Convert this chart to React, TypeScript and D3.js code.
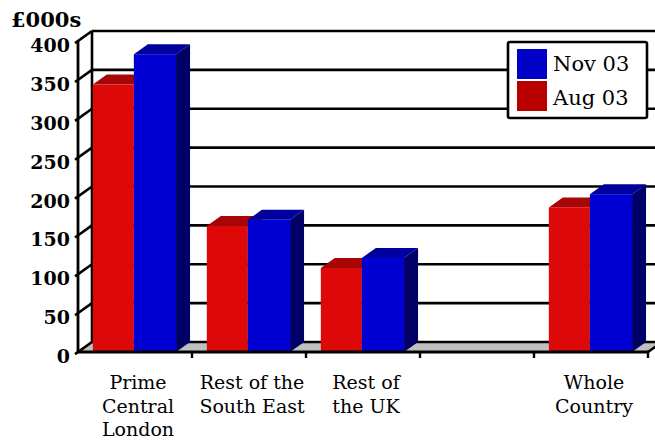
import React from "react";
import * as d3 from "d3";

// Average house prices by region, £000s
const categories = ["Prime Central London", "Rest of the South East", "Rest of the UK", "", "Whole Country"];
const categoryLines = [["Prime", "Central", "London"], ["Rest of the", "South East"], ["Rest of", "the UK"], [], ["Whole", "Country"]];
const aug03: (number | null)[] = [344, 162, 108, null, 186];
const nov03: (number | null)[] = [383, 170, 121, null, 203];
const yTicks = [0, 50, 100, 150, 200, 250, 300, 350, 400];
const seriesNames = ["Nov 03", "Aug 03"];

const W = 655;
const H = 446;
const DX = 14;
const DY = -10;
const FONT = "'DejaVu Serif', serif";

const RED = { front: "#dd0808", top: "#a80606", side: "#700000", key: "#b80000" };
const BLUE = { front: "#0000d2", top: "#00009e", side: "#000066", key: "#0000c8" };

export default function App() {
  const x = d3.scaleBand<string>().domain(categories).range([78, 648]).padding(0);
  const y = d3.scaleLinear().domain([0, 400]).range([352, 41]);
  const bw = x.bandwidth();
  const y0 = y(0);
  const xL = x.range()[0];
  const xR = x.range()[1];

  const bar = (cx: number, w: number, v: number, c: typeof RED, key: string) => {
    const yv = y(v);
    const top = [[cx, yv], [cx + w, yv], [cx + w + DX, yv + DY], [cx + DX, yv + DY]];
    const side = [[cx + w, yv], [cx + w + DX, yv + DY], [cx + w + DX, y0 + DY], [cx + w, y0]];
    return (
      <g key={key}>
        <polygon points={side.map((p) => p.join(",")).join(" ")} fill={c.side} />
        <polygon points={top.map((p) => p.join(",")).join(" ")} fill={c.top} />
        <rect x={cx} y={yv} width={w} height={y0 - yv} fill={c.front} />
      </g>
    );
  };

  return (
    <svg width={W} height={H} style={{ display: "block", position: "absolute", left: 0, top: 0 }}>
      <rect width={W} height={H} fill="#ffffff" />

      {/* floor */}
      <polygon
        points={[[xL, y0], [xR, y0], [xR + DX, y0 + DY], [xL + DX, y0 + DY]].map((p) => p.join(",")).join(" ")}
        fill="#c0c0c0"
      />

      {/* back wall gridlines */}
      {yTicks.map((t) => (
        <line key={"g" + t} x1={xL + DX} x2={W + 20} y1={y(t) + DY} y2={y(t) + DY} stroke="#000" strokeWidth={2.6} />
      ))}
      <line x1={xL + DX} x2={xL + DX} y1={y0 + DY} y2={y(400) + DY} stroke="#000" strokeWidth={2.6} />

      {/* left wall */}
      {yTicks.map((t) => (
        <line key={"w" + t} x1={xL - 3} y1={y(t) + 2.1} x2={xL + DX} y2={y(t) + DY} stroke="#000" strokeWidth={2.6} />
      ))}
      <line x1={xL} x2={xL} y1={y0} y2={y(400)} stroke="#000" strokeWidth={2.8} />

      {/* bars */}
      {categories.map((c, i) => {
        const bx = (x(c) ?? 0) + bw * 0.13;
        const wr = bw * 0.36;
        const wb = bw * 0.37;
        return (
          <g key={"b" + i}>
            {aug03[i] != null && bar(bx, wr, aug03[i] as number, RED, "r")}
            {nov03[i] != null && bar(bx + wr, wb, nov03[i] as number, BLUE, "b")}
          </g>
        );
      })}

      {/* front edge of floor */}
      <line x1={xL - 1} x2={xR} y1={y0} y2={y0} stroke="#000" strokeWidth={3} />
      <line x1={xR} y1={y0} x2={xR + DX} y2={y0 + DY} stroke="#000" strokeWidth={2.6} />
      {categories.slice(1).map((c, i) => (
        <line key={"t" + i} x1={x(c)} x2={x(c)} y1={y0} y2={y0 + 6} stroke="#000" strokeWidth={2.4} />
      ))}
      <line x1={xR} x2={xR} y1={y0} y2={y0 + 6} stroke="#000" strokeWidth={2.4} />

      {/* value axis labels */}
      {yTicks.map((t) => (
        <text key={"l" + t} x={70} y={y(t) + 11} textAnchor="end" fontFamily={FONT} fontWeight="bold" fontSize={19} fill="#000">
          {t}
        </text>
      ))}
      <text x={11} y={27} fontFamily={FONT} fontWeight="bold" fontSize={21} fill="#000">
        £000s
      </text>

      {/* category labels */}
      {categories.map((c, i) => (
        <text key={"c" + i} textAnchor="middle" fontFamily={FONT} fontSize={19} fill="#000">
          {categoryLines[i].map((ln, j) => (
            <tspan key={j} x={(x(c) ?? 0) + bw / 2 + 3} y={389 + j * 23.5}>
              {ln}
            </tspan>
          ))}
        </text>
      ))}

      {/* legend */}
      <rect x={508} y={42} width={139} height={76} rx={2} fill="#fff" stroke="#000" strokeWidth={2.6} />
      <rect x={517} y={49} width={30} height={30} fill={BLUE.key} />
      <rect x={517} y={81} width={30} height={30} fill={RED.key} />
      <text x={553} y={71} fontFamily={FONT} fontSize={21} fill="#000">
        {seriesNames[0]}
      </text>
      <text x={553} y={105} fontFamily={FONT} fontSize={21} fill="#000">
        {seriesNames[1]}
      </text>
    </svg>
  );
}
